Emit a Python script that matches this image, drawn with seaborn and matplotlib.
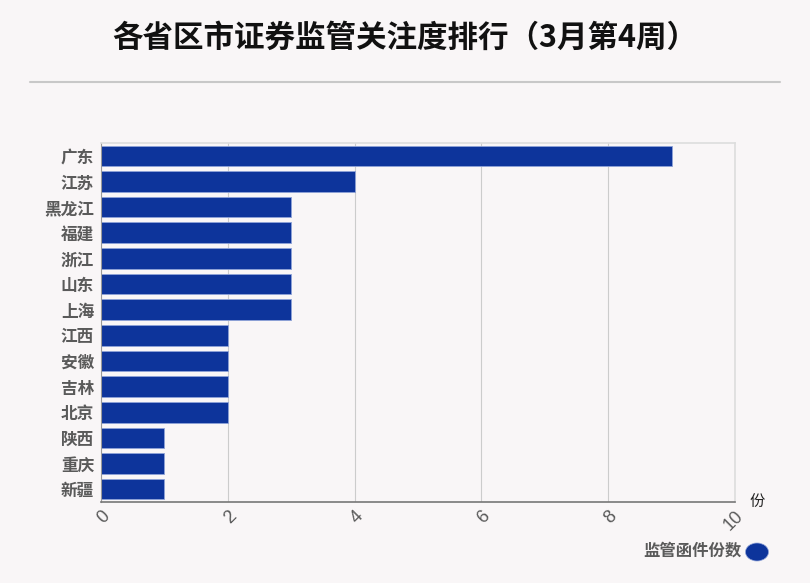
import pandas as pd
import matplotlib.pyplot as plt
import seaborn as sns
from matplotlib.lines import Line2D
from matplotlib.patches import Ellipse

provinces = ['广东', '江苏', '黑龙江', '福建', '浙江', '山东', '上海',
             '江西', '安徽', '吉林', '北京', '陕西', '重庆', '新疆']
letters = [9, 4, 3, 3, 3, 3, 3, 2, 2, 2, 2, 1, 1, 1]
xticks = [0, 2, 4, 6, 8, 10]

data = pd.DataFrame({'province': provinces, 'letters': letters})

bg = '#f9f6f7'
bar_color = '#0d349b'
text_grey = '#5a5a5a'

sns.set_style('white')
plt.rcParams['font.family'] = ['Noto Sans CJK SC', 'DejaVu Sans']

fig = plt.figure(figsize=(8.1, 5.83), dpi=100, facecolor=bg)
ax = fig.add_axes([101 / 810, 1 - 502 / 583, 634 / 810, 359 / 583])
ax.set_facecolor(bg)

sns.barplot(data=data, x='letters', y='province', color=bar_color,
            width=0.8, edgecolor='#8fa3d8', linewidth=0.6, saturation=1, ax=ax)

ax.set_xlim(0, 10)
ax.set_xticks(xticks)
ax.set_xticklabels([str(t) for t in xticks], rotation=45, ha='right',
                   rotation_mode='anchor', fontsize=13, color=text_grey,
                   family=['Liberation Sans', 'DejaVu Sans'], fontweight='light')
ax.tick_params(axis='x', length=0, pad=4)
ax.tick_params(axis='y', length=0, pad=5, labelsize=12, labelcolor=text_grey)
for lab in ax.get_yticklabels():
    lab.set_fontweight('bold')
ax.set_xlabel('')
ax.set_ylabel('')
ax.xaxis.grid(True, color='#cccccc', linewidth=0.8)
ax.set_axisbelow(True)

for side in ['top', 'right']:
    ax.spines[side].set_color('#dddddd')
    ax.spines[side].set_linewidth(1.2)
ax.spines['left'].set_color('#999999')
ax.spines['bottom'].set_color('#777777')
ax.spines['bottom'].set_linewidth(1.2)

fig.text(0.5, 1 - 38 / 583, '各省区市证券监管关注度排行（3月第4周）',
         ha='center', va='center', fontsize=22, fontweight='bold', color='#111111')
fig.add_artist(Line2D([30 / 810, 780 / 810], [1 - 82 / 583, 1 - 82 / 583],
                      color='#c8c8c8', linewidth=1.5))
fig.text(757 / 810, 1 - 501 / 583, '份', ha='center', va='center',
         fontsize=11, color='#222222')

fig.text(741 / 810, 1 - 551 / 583, '监管函件份数', ha='right', va='center',
         fontsize=11.8, fontweight='bold', color=text_grey)
fig.add_artist(Ellipse((757 / 810, 1 - 552 / 583), 23 / 810, 18 / 583,
                       transform=fig.transFigure, facecolor=bar_color,
                       edgecolor='#8fa3d8', linewidth=0.5))

plt.savefig('out.png', dpi=100, facecolor=bg)
